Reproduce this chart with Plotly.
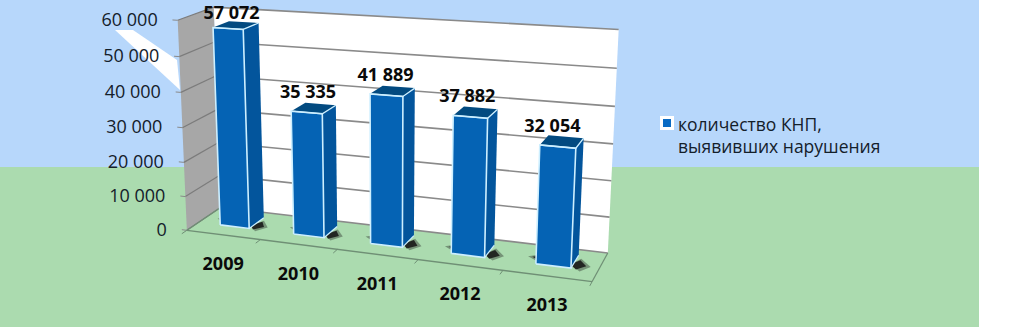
import numpy as np
import plotly.graph_objects as go

# ---------- data ----------
YEARS = ["2009", "2010", "2011", "2012", "2013"]
KNP = [57072, 35335, 41889, 37882, 32054]
VALUE_TICKS = [0, 10000, 20000, 30000, 40000, 50000, 60000]
AXIS_MAX = 60000
SERIES_NAME = "количество КНП,<br>выявивших нарушения"

# ---------- colours / geometry of the 3-D box ----------
BLUE, GREEN = "#B7D7FB", "#ABDBAF"
FRONT, SIDE, TOP, EDGE = "#0563B4", "#03559C", "#024A80", "#CDEFFF"
BAR_W, D0, D1, BAR_SHIFT = 0.40, 0.34, 0.80, 0.0

# camera calibration: (category, depth, value fraction) -> picture position of the box frame
CAL = [
    ((0, 0, 0), (188, 230)), ((1, 0, 0), (260, 240)), ((2, 0, 0), (337, 250)),
    ((3, 0, 0), (417, 261)), ((4, 0, 0), (502, 272)), ((5, 0, 0), (592, 283)),
    ((0, 1, 0), (220, 210)), ((5, 1, 0), (608, 250)),
    ((0, 0, 1), (177, 20)), ((0, 1, 1), (213, 8)), ((5, 1, 1), (619, 32)),
    ((5, 1, 5/6), (617, 68)), ((5, 1, 4/6), (615, 107)), ((5, 1, 3/6), (613, 143)),
    ((5, 1, 2/6), (612, 180)), ((5, 1, 1/6), (610, 215)),
    ((0, 0, 5/6), (179, 56)), ((0, 0, 4/6), (181, 91)), ((0, 0, 3/6), (183, 127)),
    ((0, 0, 2/6), (185, 162)), ((0, 0, 1/6), (186, 195)),
]
A, b = [], []
for (X, Y, Z), (u, v) in CAL:
    A.append([X, Y, Z, 1, 0, 0, 0, 0, -u*X, -u*Y, -u*Z]); b.append(u)
    A.append([0, 0, 0, 0, X, Y, Z, 1, -v*X, -v*Y, -v*Z]); b.append(v)
p = np.linalg.lstsq(np.array(A, float), np.array(b, float), rcond=None)[0]
P = np.append(p, 1.0).reshape(3, 4)


def proj(X, Y, Z):
    h = P @ np.array([X, Y, Z, 1.0])
    return h[0] / h[2], h[1] / h[2]


def frac(v):
    return v / AXIS_MAX


fig = go.Figure()


def poly(points, fill=None, line=None, width=1.0, close=True):
    pts = [proj(*q) for q in points]
    if close:
        pts.append(pts[0])
    fig.add_trace(go.Scatter(
        x=[q[0] for q in pts], y=[q[1] for q in pts], mode="lines",
        fill="toself" if fill else None, fillcolor=fill,
        line=dict(color=line or "rgba(0,0,0,0)", width=width if line else 0),
        hoverinfo="skip", showlegend=False))


# walls
poly([(0, 1, 0), (5, 1, 0), (5, 1, 1), (0, 1, 1)], fill="#FFFFFF")
poly([(0, 0, 0), (0, 1, 0), (0, 1, 1), (0, 0, 1)], fill="#A7A7A7")

# gridlines
for t in VALUE_TICKS:
    z = frac(t)
    poly([(0, 1, z), (5, 1, z)], line="#8A8A8A", width=1.6, close=False)
    poly([(0, 0, z), (0, 1, z)], line="#7C7C7C", width=1.2, close=False)
    poly([(-0.07, 0, z), (0, 0, z)], line="#8A8A8A", width=1, close=False)

# floor frame and category ticks
poly([(0, 0, 0), (5, 0, 0)], line="#6F8F75", width=1.4, close=False)
poly([(5, 0, 0), (5, 1, 0)], line="#6F8F75", width=1.2, close=False)
poly([(0, 0, 0), (0, 1, 0)], line="#6F8F75", width=1.2, close=False)
for i in range(len(YEARS) + 1):
    poly([(i, 0, 0), (i, -0.14, 0)], line="#6F8F75", width=1, close=False)

# bars
for i, val in enumerate(KNP):
    c = i + 0.5 + BAR_SHIFT
    x0, x1 = c - BAR_W / 2, c + BAR_W / 2
    z = frac(val)
    # contact shadows on the floor
    for grow, shade in ((0.05, "rgba(50,60,50,0.45)"), (0.0, "rgba(30,32,30,0.95)")):
        poly([(x0 - 0.09 - grow, D0 + 0.22, 0), (x0 + 0.1, D0 + 0.04 - grow, 0),
              (x0 + 0.1, D0 + 0.4 + grow, 0)], fill=shade)
        poly([(x1 - 0.03, D0 + 0.12, 0), (x1 + 0.06 + grow, D0 - 0.02 - grow, 0),
              (x1 + 0.15 + grow, D0 + 0.12, 0), (x1 + 0.05, D0 + 0.3 + grow, 0)], fill=shade)
    poly([(x1, D0, 0), (x1, D1, 0), (x1, D1, z), (x1, D0, z)], fill=SIDE)
    poly([(x0, D0, z), (x1, D0, z), (x1, D1, z), (x0, D1, z)], fill=TOP)
    poly([(x0, D0, 0), (x1, D0, 0), (x1, D0, z), (x0, D0, z)], fill=FRONT, line=EDGE, width=1.6)
    poly([(x0, D0, z), (x1, D0, z), (x1, D1, z)], line=EDGE, width=1.3, close=False)
    poly([(x1, D0, 0), (x1, D1, 0)], line=EDGE, width=1.2, close=False)

# value axis labels
tp = [proj(0, 0, frac(t)) for t in VALUE_TICKS]
fig.add_trace(go.Scatter(
    x=[q[0] - 20 for q in tp], y=[q[1] + 1 for q in tp], mode="text",
    text=[f"{t:,}".replace(",", " ") for t in VALUE_TICKS], textposition="middle left",
    textfont=dict(family="Open Sans", size=18, color="#14202A"),
    hoverinfo="skip", showlegend=False))

# category labels
cp = [proj(i + 0.5, 0, 0) for i in range(len(YEARS))]
fig.add_trace(go.Scatter(
    x=[q[0] for q in cp], y=[q[1] + 31 for q in cp], mode="text", text=YEARS,
    textposition="middle center",
    textfont=dict(family="Open Sans", size=18, color="#0A0A0A", weight="bold"),
    hoverinfo="skip", showlegend=False))

# data labels
dp = [proj(i + 0.5 + BAR_SHIFT, D0, frac(v)) for i, v in enumerate(KNP)]
fig.add_trace(go.Scatter(
    x=[q[0] + 3.5 - 2.2 * i for i, q in enumerate(dp)], y=[max(q[1] - 19, 14) for q in dp],
    mode="text", text=[f"{v:,}".replace(",", " ") for v in KNP], textposition="middle center",
    textfont=dict(family="Open Sans", size=18, color="#0A0A0A", weight="bold"),
    hoverinfo="skip", showlegend=False))

# legend entry (text from the legend, key drawn next to it)
fig.add_trace(go.Scatter(
    x=[None], y=[None], mode="markers", name=SERIES_NAME,
    marker=dict(symbol="square", size=11, color="rgba(0,0,0,0)", line=dict(width=0))))
fig.add_trace(go.Scatter(
    x=[667], y=[123], mode="markers", hoverinfo="skip", showlegend=False,
    marker=dict(symbol="square", size=11, color="#0A6BC4", line=dict(color="#FFFFFF", width=3))))

fig.update_layout(
    width=1030, height=327, margin=dict(l=0, r=0, t=0, b=0),
    paper_bgcolor=GREEN, plot_bgcolor="rgba(0,0,0,0)",
    xaxis=dict(range=[0, 1030], visible=False, fixedrange=True),
    yaxis=dict(range=[327, 0], visible=False, fixedrange=True),
    showlegend=True,
    legend=dict(x=638 / 1030, y=1 - 106 / 327, xanchor="left", yanchor="top",
                bgcolor="rgba(0,0,0,0)", itemwidth=30,
                font=dict(family="Open Sans", size=17.5, color="#14202A")),
    shapes=[
        dict(type="rect", xref="paper", yref="paper", x0=0, x1=979/1030, y0=1 - 167/327, y1=1,
             fillcolor=BLUE, line_width=0, layer="below"),
        dict(type="rect", xref="paper", yref="paper", x0=979/1030, x1=1, y0=0, y1=1,
             fillcolor="#FFFFFF", line_width=0, layer="below"),
        dict(type="path", xref="x", yref="y", path="M115,30 L133,30 L177,60 L180,90 Z",
             fillcolor="#FFFFFF", line_width=0, layer="below"),
    ],
)

fig.write_html("out.html", config={"displayModeBar": False},
               post_script="document.body.style.margin='0';")
